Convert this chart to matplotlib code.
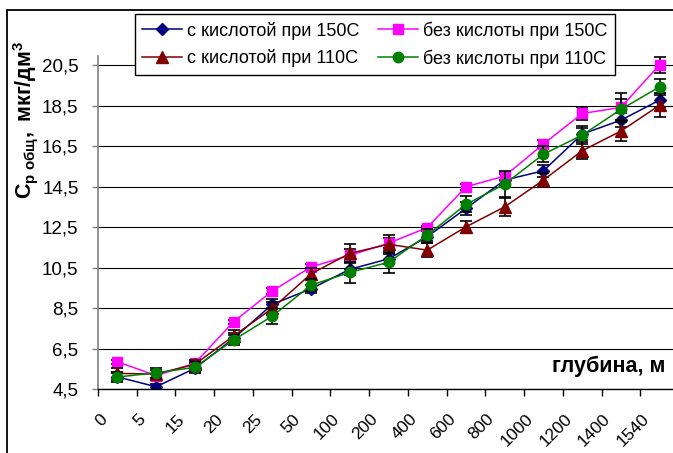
"""
Содержание Cр общ по глубине: с кислотой / без кислоты при 150С и 110С
"""

import numpy as np
import matplotlib
matplotlib.use('Agg')
import matplotlib.pyplot as plt
from matplotlib.patches import Rectangle


# ── Данные ───────────────────────────────────────────────────────────────

depths = ["0", "5", "15", "20", "25", "50", "100", "200", "400",
          "600", "800", "1000", "1200", "1400", "1540"]

acid_150 = [5.10, 4.61, 5.52, 7.00, 8.68, 9.45, 10.41, 10.93, 12.02,
            13.42, 14.82, 15.28, 17.09, 17.78, 18.77]
acid_110 = [5.27, 5.24, 5.72, 7.12, 8.48, 10.19, 11.20, 11.65, 11.36,
            12.51, 13.50, 14.82, 16.27, 17.24, 18.52]
noacid_150 = [5.85, 5.16, 5.77, 7.82, 9.34, 10.53, 11.10, 11.70, 12.47,
              14.49, 15.02, 16.60, 18.11, 18.41, 20.52]
noacid_110 = [5.09, 5.30, 5.57, 6.92, 8.10, 9.63, 10.26, 10.76, 12.10,
              13.62, 14.62, 16.10, 17.04, 18.31, 19.43]

err_acid_150 = [0.20, 0.15, 0.25, 0.25, 0.25, 0.20, 0.30, 0.25, 0.30,
                0.30, 0.30, 0.30, 0.30, 0.35, 0.35]
err_acid_110 = [0.25, 0.20, 0.20, 0.30, 0.30, 0.30, 0.45, 0.45, 0.35,
                0.30, 0.45, 0.35, 0.42, 0.48, 0.58]
err_noacid_150 = [0.10, 0.10, 0.15, 0.10, 0.15, 0.15, 0.30, 0.25, 0.10,
                  0.15, 0.20, 0.20, 0.30, 0.70, 0.40]
err_noacid_110 = [0.25, 0.25, 0.25, 0.25, 0.40, 0.30, 0.50, 0.52, 0.30,
                  0.40, 0.65, 0.40, 0.45, 0.50, 0.40]

yticks = [4.5, 6.5, 8.5, 10.5, 12.5, 14.5, 16.5, 18.5, 20.5]
ytick_labels = ["4,5", "6,5", "8,5", "10,5", "12,5", "14,5", "16,5", "18,5", "20,5"]

labels = ["с кислотой при 150С", "с кислотой при 110С",
          "без кислоты при 150С", "без кислоты при 110С"]


# ── График ───────────────────────────────────────────────────────────────

plt.rcParams['font.family'] = ['Liberation Sans', 'DejaVu Sans']
plt.rcParams['mathtext.fontset'] = 'custom'
plt.rcParams['mathtext.rm'] = 'Liberation Sans:bold'
plt.rcParams['mathtext.it'] = 'Liberation Sans:bold'
plt.rcParams['mathtext.bf'] = 'Liberation Sans:bold'

W, H = 673, 453
fig = plt.figure(figsize=(W / 100, H / 100), dpi=100)
ax = fig.add_axes([98 / W, 1 - 389 / H, 581 / W, 333 / H])

x = np.arange(len(depths))

series = [
    (acid_150, err_acid_150, "#000080", "D", 6.0, 2),
    (acid_110, err_acid_110, "#800000", "^", 8.0, 4),
    (noacid_150, err_noacid_150, "#ff00ff", "s", 7.5, 3),
    (noacid_110, err_noacid_110, "#008000", "o", 7.5, 5),
]

handles = []
for (vals, errs, color, marker, ms, z), lab in zip(series, labels):
    ax.errorbar(x, vals, yerr=errs, fmt='none', ecolor='black',
                elinewidth=1.2, capsize=4.5, capthick=1.2, zorder=z)
    h, = ax.plot(x, vals, color=color, marker=marker, markersize=ms,
                 linewidth=1.1, markeredgecolor=color, label=lab, zorder=z)
    handles.append(h)

ax.set_xlim(-0.5, len(depths) - 0.5)
ax.set_ylim(4.5, 20.95)

# ось Y
ax.set_yticks(yticks)
ax.set_yticklabels(ytick_labels, fontsize=13.5)
ax.tick_params(axis='y', direction='out', length=4, width=1,
               color='#808080', pad=10)
ax.yaxis.grid(True, color='black', linewidth=0.8)
ax.set_axisbelow(True)

# ось X: риски на границах категорий, подписи повернуты
ax.set_xticks(np.arange(len(depths) + 1) - 0.5)
ax.set_xticklabels([])
ax.tick_params(axis='x', which='major', direction='out', length=5,
               width=1, color='black')
ax.set_xticks(x - 0.33, minor=True)
ax.set_xticklabels(depths, minor=True, fontsize=12.5, rotation=45,
                   ha='right', va='center', rotation_mode='anchor')
ax.tick_params(axis='x', which='minor', length=0, pad=20)

for side in ['top', 'right']:
    ax.spines[side].set_visible(False)
ax.spines['left'].set_color('#808080')
ax.spines['left'].set_linewidth(1.2)
ax.spines['bottom'].set_color('black')
ax.spines['bottom'].set_linewidth(1.0)

# подписи осей
fig.text(26 / W, 1 - 120 / H, r"$\mathrm{C_{р\ общ},\ мкг/дм^{3}}$",
         rotation=90, ha='center', va='center', fontsize=15.5)
fig.text(665 / W, 1 - 372 / H, "глубина, м", ha='right', va='baseline',
         fontsize=15.5, fontweight='bold')

# легенда
leg = ax.legend(handles=handles, loc='upper left', ncol=2,
                bbox_to_anchor=(135 / W, 1 - 14 / H),
                bbox_transform=fig.transFigure, borderaxespad=0,
                fontsize=13, frameon=True, fancybox=False, framealpha=1,
                edgecolor='black', handlelength=2.2, handletextpad=0.3,
                columnspacing=1.0, labelspacing=0.55, borderpad=0.4)
leg.get_frame().set_linewidth(1.0)

# рамка области диаграммы
fig.patches.append(Rectangle((7 / W, -0.1), 1.2, 1.1 - 10 / H,
                             transform=fig.transFigure, fill=False,
                             edgecolor='black', linewidth=1.3))

fig.savefig("out.png", dpi=100)
